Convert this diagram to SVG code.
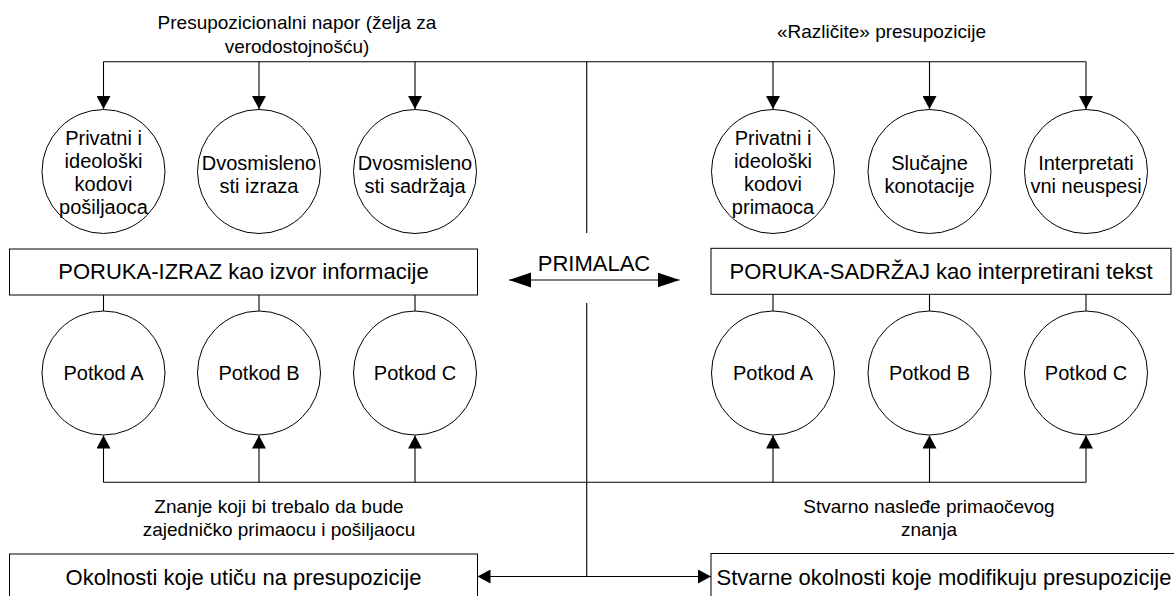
<svg xmlns="http://www.w3.org/2000/svg" width="1174" height="596" viewBox="0 0 1174 596">
<defs>
<style>
text{font-family:"Liberation Sans",Arial,sans-serif;fill:#000;text-anchor:middle}
.lbl{font-size:19px}
.box{font-size:22px}
.ct{font-size:20px}
.node{fill:#fff;stroke:#000;stroke-width:1}
.ln{fill:none;stroke:#000;stroke-width:1.1}
</style>
<marker id="ah" markerUnits="userSpaceOnUse" markerWidth="14" markerHeight="14" refX="13" refY="7" orient="auto-start-reverse" viewBox="0 0 14 14">
<path d="M0,0 L13,7 L0,14 z" fill="#000"/>
</marker>
<marker id="ahb" markerUnits="userSpaceOnUse" markerWidth="23" markerHeight="16" refX="22" refY="7.5" orient="auto-start-reverse" viewBox="0 0 23 16">
<path d="M0,0 L22,7.5 L0,15 z" fill="#000"/>
</marker>
</defs>
<rect width="1174" height="596" fill="#fff"/>

<g id="connectors">
<polyline class="ln" points="103.5,61.7 1086,61.7"/>
<line class="ln" x1="103.5" y1="61.7" x2="103.5" y2="109" marker-end="url(#ah)"/>
<line class="ln" x1="259" y1="61.7" x2="259" y2="109" marker-end="url(#ah)"/>
<line class="ln" x1="415" y1="61.7" x2="415" y2="109" marker-end="url(#ah)"/>
<line class="ln" x1="773" y1="61.7" x2="773" y2="109" marker-end="url(#ah)"/>
<line class="ln" x1="929.5" y1="61.7" x2="929.5" y2="109" marker-end="url(#ah)"/>
<line class="ln" x1="1086" y1="61.7" x2="1086" y2="109" marker-end="url(#ah)"/>
<line class="ln" x1="586.7" y1="61.7" x2="586.7" y2="233"/>
<line class="ln" x1="586.7" y1="303" x2="586.7" y2="576.5"/>
<line class="ln" x1="509" y1="280" x2="679.5" y2="280" marker-start="url(#ahb)" marker-end="url(#ahb)"/>
<line class="ln" x1="103.5" y1="295" x2="103.5" y2="311"/>
<line class="ln" x1="259" y1="295" x2="259" y2="311"/>
<line class="ln" x1="415" y1="295" x2="415" y2="311"/>
<line class="ln" x1="773" y1="294.3" x2="773" y2="311"/>
<line class="ln" x1="929.5" y1="294.3" x2="929.5" y2="311"/>
<line class="ln" x1="1086" y1="294.3" x2="1086" y2="311"/>
<polyline class="ln" points="103.5,482.3 1086,482.3"/>
<line class="ln" x1="103.5" y1="482.3" x2="103.5" y2="435.5" marker-end="url(#ah)"/>
<line class="ln" x1="259" y1="482.3" x2="259" y2="435.5" marker-end="url(#ah)"/>
<line class="ln" x1="415" y1="482.3" x2="415" y2="435.5" marker-end="url(#ah)"/>
<line class="ln" x1="773" y1="482.3" x2="773" y2="435.5" marker-end="url(#ah)"/>
<line class="ln" x1="929.5" y1="482.3" x2="929.5" y2="435.5" marker-end="url(#ah)"/>
<line class="ln" x1="1086" y1="482.3" x2="1086" y2="435.5" marker-end="url(#ah)"/>
<line class="ln" x1="477.5" y1="576.5" x2="711" y2="576.5" marker-start="url(#ah)" marker-end="url(#ah)"/>
</g>

<g id="label-presup">
<text class="lbl" x="297" y="29">Presupozicionalni napor (želja za</text>
<text class="lbl" x="297" y="53">verodostojnošću)</text>
</g>
<g id="label-razlicite">
<text class="lbl" x="881.5" y="38">«Različite» presupozicije</text>
</g>
<g id="label-PRIMALAC">
<text class="box" x="594" y="271">PRIMALAC</text>
</g>
<g id="label-znanje">
<text class="lbl" x="279" y="513">Znanje koji bi trebalo da bude</text>
<text class="lbl" x="279" y="536">zajedničko primaocu i pošiljaocu</text>
</g>
<g id="label-stvarno">
<text class="lbl" x="929" y="513">Stvarno nasleđe primaočevog</text>
<text class="lbl" x="929" y="536">znanja</text>
</g>

<g id="c-privatni-pos">
<ellipse class="node" cx="103.5" cy="171.5" rx="61.5" ry="62"/>
<text class="ct" x="103.5" y="145">Privatni i</text>
<text class="ct" x="103.5" y="168">ideološki</text>
<text class="ct" x="103.5" y="191">kodovi</text>
<text class="ct" x="103.5" y="214">pošiljaoca</text>
</g>
<g id="c-dvos-izraza">
<ellipse class="node" cx="259" cy="171.5" rx="61.5" ry="62"/>
<text class="ct" x="259" y="170">Dvosmisleno</text>
<text class="ct" x="259" y="193">sti izraza</text>
</g>
<g id="c-dvos-sadrzaja">
<ellipse class="node" cx="415" cy="171.5" rx="61.5" ry="62"/>
<text class="ct" x="415" y="170">Dvosmisleno</text>
<text class="ct" x="415" y="193">sti sadržaja</text>
</g>
<g id="c-privatni-prim">
<ellipse class="node" cx="773" cy="171.5" rx="61.5" ry="62"/>
<text class="ct" x="773" y="145">Privatni i</text>
<text class="ct" x="773" y="168">ideološki</text>
<text class="ct" x="773" y="191">kodovi</text>
<text class="ct" x="773" y="214">primaoca</text>
</g>
<g id="c-slucajne">
<ellipse class="node" cx="929.5" cy="171.5" rx="61.5" ry="62"/>
<text class="ct" x="929.5" y="170">Slučajne</text>
<text class="ct" x="929.5" y="193">konotacije</text>
</g>
<g id="c-interpret">
<ellipse class="node" cx="1086" cy="171.5" rx="61.5" ry="62"/>
<text class="ct" x="1086" y="170">Interpretati</text>
<text class="ct" x="1086" y="193">vni neuspesi</text>
</g>

<g id="box-izraz">
<rect class="node" x="9.5" y="249" width="468" height="46"/>
<text class="box" x="243.5" y="279">PORUKA-IZRAZ kao izvor informacije</text>
</g>
<g id="box-sadrzaj">
<rect class="node" x="711" y="248.3" width="460" height="46"/>
<text class="box" x="941" y="279">PORUKA-SADRŽAJ kao interpretirani tekst</text>
</g>

<g id="l-potkod-a">
<ellipse class="node" cx="103.5" cy="373" rx="61.5" ry="62"/>
<text class="ct" x="103.5" y="380">Potkod A</text>
</g>
<g id="l-potkod-b">
<ellipse class="node" cx="259" cy="373" rx="61.5" ry="62"/>
<text class="ct" x="259" y="380">Potkod B</text>
</g>
<g id="l-potkod-c">
<ellipse class="node" cx="415" cy="373" rx="61.5" ry="62"/>
<text class="ct" x="415" y="380">Potkod C</text>
</g>
<g id="r-potkod-a">
<ellipse class="node" cx="773" cy="373" rx="61.5" ry="62"/>
<text class="ct" x="773" y="380">Potkod A</text>
</g>
<g id="r-potkod-b">
<ellipse class="node" cx="929.5" cy="373" rx="61.5" ry="62"/>
<text class="ct" x="929.5" y="380">Potkod B</text>
</g>
<g id="r-potkod-c">
<ellipse class="node" cx="1086" cy="373" rx="61.5" ry="62"/>
<text class="ct" x="1086" y="380">Potkod C</text>
</g>

<g id="box-okolnosti">
<rect class="node" x="9.5" y="554" width="468" height="46"/>
<text class="box" x="243.5" y="584.5">Okolnosti koje utiču na presupozicije</text>
</g>
<g id="box-stvarne">
<rect class="node" x="711" y="553.5" width="466" height="46"/>
<text class="box" x="944" y="584.5">Stvarne okolnosti koje modifikuju presupozicije</text>
</g>
</svg>
